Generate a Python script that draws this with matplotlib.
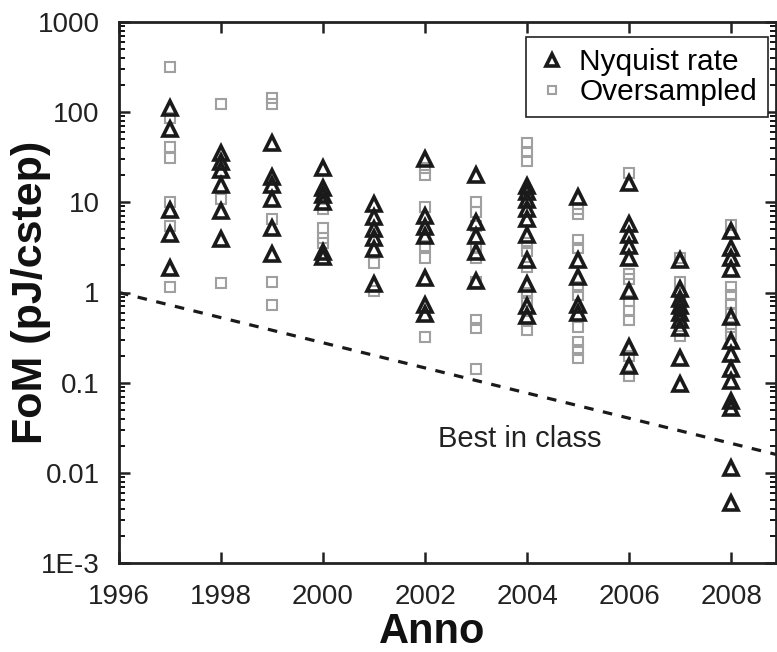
import matplotlib
matplotlib.use("Agg")
import matplotlib.pyplot as plt
from matplotlib.ticker import FixedLocator, FixedFormatter, LogLocator, NullFormatter

plt.rcParams['font.family'] = ['Liberation Sans', 'DejaVu Sans']

# Nyquist rate (triangles): year -> FoM values
nyq_1997 = [110, 65, 8.2, 4.5, 1.85]
nyq_1998 = [35, 28, 23, 15.4, 8.0, 3.9]
nyq_1999 = [45, 19, 15.5, 11, 5.2, 2.7]
nyq_2000 = [24, 14.3, 12, 10, 2.8, 2.5]
nyq_2001 = [9.5, 6.8, 5.0, 4.0, 3.0, 1.25]
nyq_2002 = [30, 7.0, 5.3, 4.2, 1.45, 0.72, 0.58]
nyq_2003 = [20, 6.0, 4.2, 2.8, 1.35]
nyq_2004 = [15, 13, 10.5, 8.5, 6.5, 4.3, 2.3, 1.25, 0.7, 0.55]
nyq_2005 = [11.5, 2.3, 1.5, 0.72, 0.6]
nyq_2006 = [16.5, 5.8, 4.3, 3.3, 2.4, 1.05, 0.25, 0.155]
nyq_2007 = [2.3, 1.1, 0.85, 0.7, 0.6, 0.5, 0.4, 0.19, 0.097]
nyq_2008 = [4.8, 3.1, 2.4, 1.8, 0.53, 0.29, 0.21, 0.14, 0.105, 0.062, 0.052, 0.0114, 0.0046]

# Oversampled (squares)
ovs_1997 = [316, 86, 41, 31, 10, 5.5, 1.14]
ovs_1998 = [122, 10.8, 1.27]
ovs_1999 = [145, 122, 6.5, 1.3, 0.72]
ovs_2000 = [8.5, 5.2, 4.0, 3.5]
ovs_2001 = [2.1, 1.05]
ovs_2002 = [24, 20, 8.8, 3.3, 2.4, 0.32]
ovs_2003 = [10, 7.8, 5.5, 3.2, 2.4, 1.3, 0.5, 0.4, 0.14]
ovs_2004 = [45, 36, 29, 11, 3.5, 2.9, 1.9, 1.0, 0.8, 0.48, 0.38]
ovs_2005 = [8.5, 7.5, 3.8, 3.1, 1.15, 0.93, 0.41, 0.28, 0.23, 0.19]
ovs_2006 = [21, 1.6, 1.4, 0.8, 0.63, 0.49, 0.2, 0.12]
ovs_2007 = [2.4, 1.3, 1.0, 0.75, 0.55, 0.33]
ovs_2008 = [5.6, 1.15, 0.95, 0.75, 0.6, 0.41, 0.35]

years = list(range(1997, 2009))
nyquist = [nyq_1997, nyq_1998, nyq_1999, nyq_2000, nyq_2001, nyq_2002,
           nyq_2003, nyq_2004, nyq_2005, nyq_2006, nyq_2007, nyq_2008]
oversampled = [ovs_1997, ovs_1998, ovs_1999, ovs_2000, ovs_2001, ovs_2002,
               ovs_2003, ovs_2004, ovs_2005, ovs_2006, ovs_2007, ovs_2008]

best_x = [1996, 2008.88]
best_y = [1.0, 0.016]

xticks = [1996, 1998, 2000, 2002, 2004, 2006, 2008]
yticks = [1e-3, 1e-2, 1e-1, 1, 10, 100, 1000]
ytick_labels = ['1E-3', '0.01', '0.1', '1', '10', '100', '1000']

W, H = 777, 652
fig = plt.figure(figsize=(W / 100, H / 100), dpi=100)
ax = fig.add_axes([119 / W, 1 - 563 / H, (776 - 119) / W, (563 - 22) / H])

ox, oy = [], []
for yr, vals in zip(years, oversampled):
    ox += [yr] * len(vals)
    oy += vals
nx, ny = [], []
for yr, vals in zip(years, nyquist):
    nx += [yr] * len(vals)
    ny += vals

ax.plot(ox, oy, linestyle='none', marker='s', markersize=7.5, markerfacecolor='none',
        markeredgecolor='#a0a0a0', markeredgewidth=1.5, label='Oversampled', zorder=2)
ax.plot(nx, ny, linestyle='none', marker='^', markersize=10.5, markerfacecolor='none',
        markeredgecolor='#1a1a1a', markeredgewidth=2.6, label='Nyquist rate', zorder=3)

ax.plot(best_x, best_y, linestyle=(0, (3, 3)), color='#1a1a1a', linewidth=2.3, zorder=1)
ax.text(2002.25, 0.024, 'Best in class', fontsize=21, ha='left', va='center', color='#222222')

ax.set_yscale('log')
ax.set_ylim(1e-3, 1000)
ax.set_xlim(1996, 2008.88)

ax.yaxis.set_major_locator(FixedLocator(yticks))
ax.yaxis.set_major_formatter(FixedFormatter(ytick_labels))
ax.yaxis.set_minor_locator(LogLocator(base=10, subs=range(2, 10), numticks=20))
ax.yaxis.set_minor_formatter(NullFormatter())
ax.set_xticks(xticks)
ax.set_xticklabels([str(t) for t in xticks])

ax.tick_params(axis='both', which='major', direction='in', length=8, width=1.8,
               labelsize=20, top=True, right=True, colors='#222222')
ax.tick_params(axis='y', which='major', pad=14)
ax.tick_params(axis='x', which='major', pad=15)
ax.tick_params(axis='y', which='minor', direction='in', length=4.5, width=1.3, right=True)
for s in ax.spines.values():
    s.set_linewidth(2)
    s.set_color('#222222')

fig.text(432 / W, 1 - 632 / H, 'Anno', fontsize=30, fontweight='bold',
         ha='center', va='center', color='#111111')
fig.text(31 / W, 1 - 292 / H, 'FoM (pJ/cstep)', fontsize=31, fontweight='bold',
         ha='center', va='center', rotation=90, color='#111111')

handles, labels = ax.get_legend_handles_labels()
leg = ax.legend(handles[::-1], labels[::-1], loc='upper right', fontsize=21.5,
                frameon=True, fancybox=False, edgecolor='#222222', framealpha=1,
                handletextpad=0.4, borderpad=0.37, labelspacing=0.08,
                handlelength=1.0, borderaxespad=0,
                bbox_to_anchor=((768 - 119) / 657, (563 - 37) / 541), markerscale=0.85)
leg.get_frame().set_linewidth(1.2)

fig.savefig('out.png', dpi=100)
